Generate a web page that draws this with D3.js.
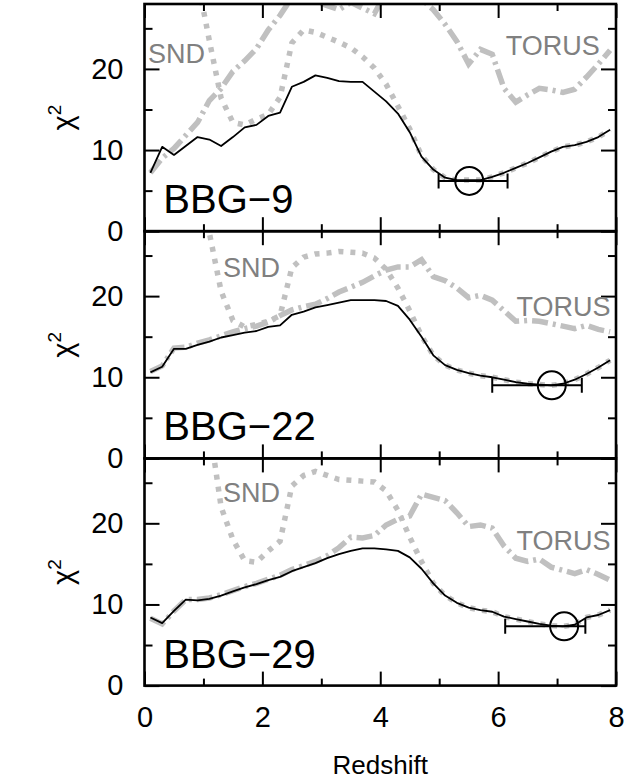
<!DOCTYPE html>
<html><head><meta charset="utf-8">
<script src="https://cdn.jsdelivr.net/npm/d3@7"></script>
<style>
body{margin:0;background:#fff}
svg{display:block}
text{font-family:"Liberation Sans",Arial,Helvetica,sans-serif}
</style>
</head><body>
<svg id="chart" width="631" height="782"></svg>
<script>
// ---- data ----
const redshift = [0.1,0.3,0.5,0.7,0.9,1.1,1.3,1.5,1.7,1.9,2.1,2.3,2.5,2.7,2.9,3.1,3.3,3.5,3.7,3.9,
                  4.1,4.3,4.5,4.7,4.9,5.1,5.3,5.5,5.7,5.9,6.1,6.3,6.5,6.7,6.9,7.1,7.3,7.5,7.7,7.9];

const panelNames = ["BBG\u22129","BBG\u221222","BBG\u221229"];

const bbg9Best  = [7.2,10.4,9.4,10.5,11.6, 11.3,10.5,11.6,12.8,13.1, 14.2,14.6,17.8,18.4,19.2, 18.9,18.5,18.4,18.4,17.2,
                   16.0,14.5,12.2,9.2,7.6, 6.6,6.3,6.3,6.3,6.7, 7.2,7.8,8.4,9.1,9.8, 10.4,10.6,11.0,11.6,12.5];
const bbg9Snd   = [45,42,38,34,31, 23.5,16.4,13.4,13.1,13.8, 14.4,16.5,23.2,24.8,24.5, 23.9,23.3,22.6,21.5,20.1,
                   18.1,15.4,12.6,9.3,7.6, 6.6,6.3,6.3,6.3,6.7, 7.2,7.8,8.4,9.1,9.8, 10.4,10.6,11.0,11.6,12.5];
const bbg9Torus = [7.2,9.0,10.2,11.8,13.4, 16.1,17.6,19.7,21.0,22.5, 24.8,26.6,28.8,29.5,28.3, 27.8,27.3,28.2,27.5,26.8,
                   29.5,31.0,30.5,28.6,27.3, 25.5,23.4,20.6,22.4,21.8, 17.6,15.9,16.8,17.6,17.4, 17.1,17.5,19.0,20.6,22.3];

const bbg22Best  = [10.6,11.3,13.5,13.5,14.0, 14.4,14.9,15.2,15.5,15.7, 16.2,16.4,17.7,18.1,18.6, 18.9,19.2,19.5,19.5,19.5,
                    19.4,18.8,17.1,15.0,12.7, 11.5,10.9,10.5,10.2,10.0, 9.7,9.4,9.2,9.1,9.0, 9.2,9.7,10.4,11.2,12.1];
const bbg22Snd   = [50,46,42,37,32, 27.8,20.6,17.0,16.2,16.5, 16.9,17.6,23.5,24.8,25.2, 25.3,25.5,25.4,25.3,24.7,
                    23.3,21.0,18.2,15.1,12.7, 11.5,10.9,10.5,10.2,10.0, 9.7,9.4,9.2,9.1,9.0, 9.2,9.7,10.4,11.2,12.1];
const bbg22Torus = [10.7,11.4,13.6,13.7,14.2, 14.6,15.1,15.6,16.0,16.3, 16.8,17.6,18.3,18.7,19.0, 19.7,20.5,21.1,21.7,22.5,
                    23.2,23.6,23.6,24.5,22.4, 21.9,21.0,19.8,20.1,19.5, 18.2,16.9,17.0,16.9,16.6, 16.3,16.0,16.4,15.9,15.6];

const bbg29Best  = [8.4,7.7,9.2,10.6,10.5, 10.7,11.1,11.6,12.1,12.5, 13.0,13.4,14.1,14.6,15.1, 15.7,16.2,16.6,16.9,16.9,
                    16.8,16.6,15.8,14.4,12.6, 11.1,10.2,9.6,9.3,9.1, 8.5,8.2,7.9,7.6,7.4, 7.3,7.5,8.4,8.7,9.3];
const bbg29Snd   = [48,45,42,39,36, 32,22.0,18.0,15.4,15.2, 16.6,17.8,24.6,25.9,26.4, 25.9,25.4,25.3,25.2,25.1,
                    24.0,21.6,18.3,15.3,12.6, 11.1,10.2,9.6,9.3,9.1, 8.5,8.2,7.9,7.6,7.4, 7.3,7.5,8.4,8.7,9.3];
const bbg29Torus = [8.3,7.6,9.2,10.6,10.6, 10.8,11.2,11.7,12.2,12.6, 13.1,13.6,14.3,14.8,15.3, 16.0,17.0,18.3,18.2,18.5,
                    19.8,20.5,20.9,23.6,23.2, 22.8,21.3,19.6,19.8,19.4, 17.2,15.7,15.3,15.6,14.6, 14.2,13.8,14.3,13.7,13.0];

const bestFitZ    = [5.51, 6.91, 7.12];
const bestFitChi2 = [6.2, 9.0, 7.3];
const errZLow     = [4.99, 5.90, 6.12];
const errZHigh    = [6.16, 7.42, 7.48];

const xTicksMajor = [0,2,4,6,8];
const xTicksMinor = [1,3,5,7];
const yTicksMajor = [0,10,20];
const yTicksMinor = [5,15,25];

const bestSeries  = [bbg9Best, bbg22Best, bbg29Best];
const sndSeries   = [bbg9Snd, bbg22Snd, bbg29Snd];
const torusSeries = [bbg9Torus, bbg22Torus, bbg29Torus];

// ---- layout ----
const plotLeft = 144.5, plotRight = 616, plotTop = 4, ph = 227.2;
const gray = "#c0c0c0";

const svg = d3.select("#chart");
const x = d3.scaleLinear().domain([0,8]).range([plotLeft,plotRight]);

const defs = svg.append("defs");

panelNames.forEach((name, i) => {
  const y0 = plotTop + i*ph;
  const y = d3.scaleLinear().domain([0,28]).range([y0+ph, y0]);
  const g = svg.append("g");

  defs.append("clipPath").attr("id","clip"+i)
    .append("rect").attr("x",plotLeft).attr("y",y0).attr("width",plotRight-plotLeft).attr("height",ph);

  const line = (vals) => d3.line().x((d,j)=>x(redshift[j])).y(d=>y(d))(vals);

  const plot = g.append("g").attr("clip-path","url(#clip"+i+")");
  plot.append("path").attr("d", line(torusSeries[i]))
    .attr("fill","none").attr("stroke",gray).attr("stroke-width",5.5)
    .attr("stroke-dasharray","16,5,3,5");
  plot.append("path").attr("d", line(sndSeries[i]))
    .attr("fill","none").attr("stroke",gray).attr("stroke-width",5.5)
    .attr("stroke-dasharray","5,7");
  plot.append("path").attr("d", line(bestSeries[i]))
    .attr("fill","none").attr("stroke","#000").attr("stroke-width",1.8)
    .attr("stroke-linejoin","round");

  // best-fit marker with error bar
  const cy = y(bestFitChi2[i]);
  plot.append("line").attr("x1",x(errZLow[i])).attr("x2",x(errZHigh[i]))
    .attr("y1",cy).attr("y2",cy).attr("stroke","#000").attr("stroke-width",2);
  [errZLow[i], errZHigh[i]].forEach(v => {
    plot.append("line").attr("x1",x(v)).attr("x2",x(v)).attr("y1",cy-7.5).attr("y2",cy+7.5)
      .attr("stroke","#000").attr("stroke-width",2);
  });
  plot.append("circle").attr("cx",x(bestFitZ[i])).attr("cy",cy).attr("r",14)
    .attr("fill","none").attr("stroke","#000").attr("stroke-width",2);

  // axes (inward ticks)
  const mk = (axis, tr) => {
    const a = g.append("g").attr("transform",tr).call(axis);
    a.select(".domain").remove();
    a.selectAll(".tick line").attr("stroke","#000").attr("stroke-width",2);
    a.selectAll("text").attr("font-family","Liberation Sans, Arial, sans-serif")
      .attr("font-size",29).attr("fill","#000");
    return a;
  };
  mk(d3.axisLeft(y).tickValues(yTicksMajor).tickSize(-15).tickPadding(21).tickFormat(d3.format("d")), `translate(${plotLeft},0)`);
  mk(d3.axisLeft(y).tickValues(yTicksMinor).tickSize(-8).tickFormat(""), `translate(${plotLeft},0)`);
  mk(d3.axisRight(y).tickValues(yTicksMajor).tickSize(-15).tickFormat(""), `translate(${plotRight},0)`);
  mk(d3.axisRight(y).tickValues(yTicksMinor).tickSize(-8).tickFormat(""), `translate(${plotRight},0)`);
  mk(d3.axisTop(x).tickValues(xTicksMajor).tickSize(-14).tickFormat(""), `translate(0,${y0})`);
  mk(d3.axisTop(x).tickValues(xTicksMinor).tickSize(-7).tickFormat(""), `translate(0,${y0})`);
  const bottomMajor = d3.axisBottom(x).tickValues(xTicksMajor).tickSize(-14).tickPadding(21)
    .tickFormat(i === 2 ? d3.format("d") : "");
  mk(bottomMajor, `translate(0,${y0+ph})`);
  mk(d3.axisBottom(x).tickValues(xTicksMinor).tickSize(-7).tickFormat(""), `translate(0,${y0+ph})`);

  // frame
  g.append("rect").attr("x",plotLeft).attr("y",y0).attr("width",plotRight-plotLeft).attr("height",ph)
    .attr("fill","none").attr("stroke","#000").attr("stroke-width",2.6);

  // labels
  g.append("text").attr("x",x(0.32)).attr("y",y0+ph-18).attr("font-size",40).attr("fill","#000").text(name);

  const sndPos = [[0.06,20.7],[1.33,22.4],[1.33,22.6]][i];
  const torPos = [[6.13,21.7],[6.31,17.6],[6.31,16.7]][i];
  g.append("text").attr("x",x(sndPos[0])).attr("y",y(sndPos[1])).attr("font-size",27).attr("fill","#808080").text("SND");
  g.append("text").attr("x",x(torPos[0])).attr("y",y(torPos[1])).attr("font-size",27).attr("fill","#808080").text("TORUS");

  // y-axis title
  const t = svg.append("text").attr("transform",`translate(73,${y0+ph/2}) rotate(-90)`)
    .attr("text-anchor","middle").attr("font-size",29).attr("fill","#000");
  t.append("tspan").text("\u03c7");
  t.append("tspan").attr("font-size",19).attr("dy",-12).text("2");
});

svg.append("text").attr("x",(plotLeft+plotRight)/2).attr("y",774).attr("text-anchor","middle")
  .attr("font-size",26).attr("fill","#000").text("Redshift");
</script>
</body></html>
